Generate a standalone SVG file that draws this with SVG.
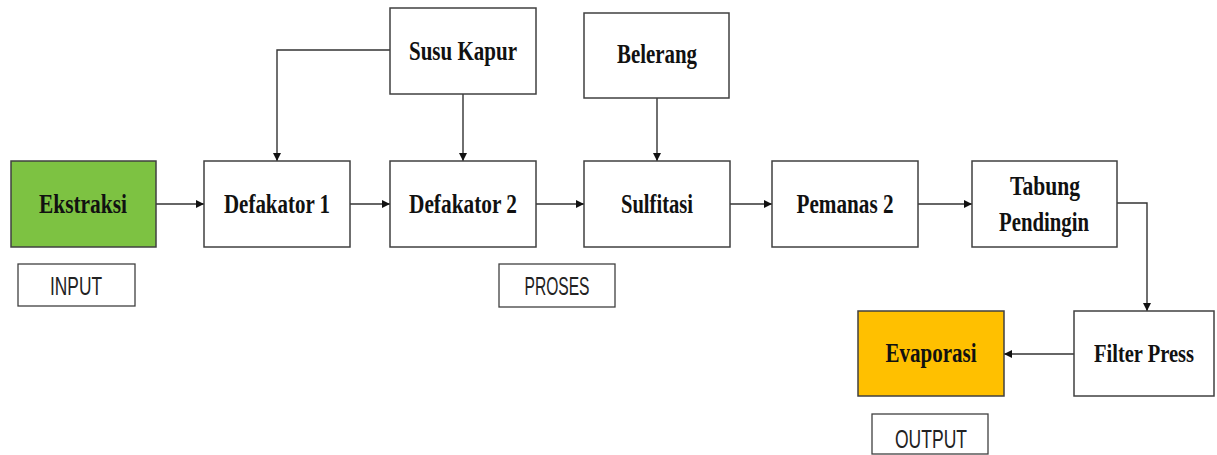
<svg xmlns="http://www.w3.org/2000/svg" width="1217" height="455" viewBox="0 0 1217 455">
<defs>
<style>
.box{fill:#ffffff;stroke:#404040;stroke-width:1.5}
.lbl{fill:#ffffff;stroke:#404040;stroke-width:1.3}
.t{font-family:"Liberation Serif","Times New Roman",serif;font-weight:bold;font-size:27px;fill:#111;text-anchor:middle}
.s{font-family:"Liberation Sans",Arial,sans-serif;font-size:25px;fill:#222;text-anchor:middle}
.c{fill:none;stroke:#333;stroke-width:1.4}
</style>
<marker id="ah" viewBox="0 0 10 10" refX="10" refY="5" markerWidth="8" markerHeight="8" markerUnits="userSpaceOnUse" orient="auto">
<path d="M0,0 L10,5 L0,10 Z" fill="#111"/>
</marker>
</defs>
<rect width="1217" height="455" fill="#ffffff"/>
<g id="connectors">
<path class="c" d="M156,204 H204" marker-end="url(#ah)"/>
<path class="c" d="M350,204 H390" marker-end="url(#ah)"/>
<path class="c" d="M536,204 H584" marker-end="url(#ah)"/>
<path class="c" d="M730,204 H772" marker-end="url(#ah)"/>
<path class="c" d="M918,204 H972" marker-end="url(#ah)"/>
<path class="c" d="M1117,203 H1147 V311" marker-end="url(#ah)"/>
<path class="c" d="M1074,354 H1004" marker-end="url(#ah)"/>
<path class="c" d="M390,50 H277 V161" marker-end="url(#ah)"/>
<path class="c" d="M463,94 V161" marker-end="url(#ah)"/>
<path class="c" d="M657,98 V161" marker-end="url(#ah)"/>
</g>
<g id="ekstraksi">
<rect class="box" x="11" y="161" width="145" height="86" style="fill:#7dc242"/>
<text class="t" x="83" y="213" textLength="88" lengthAdjust="spacingAndGlyphs">Ekstraksi</text>
</g>
<g id="defakator1">
<rect class="box" x="204" y="161" width="146" height="86"/>
<text class="t" x="277" y="213" textLength="106" lengthAdjust="spacingAndGlyphs">Defakator 1</text>
</g>
<g id="susukapur">
<rect class="box" x="390" y="8" width="146" height="86"/>
<text class="t" x="463" y="60" textLength="108" lengthAdjust="spacingAndGlyphs">Susu Kapur</text>
</g>
<g id="defakator2">
<rect class="box" x="390" y="161" width="146" height="86"/>
<text class="t" x="463" y="213" textLength="108" lengthAdjust="spacingAndGlyphs">Defakator 2</text>
</g>
<g id="belerang">
<rect class="box" x="584" y="13" width="145" height="85"/>
<text class="t" x="657" y="63" textLength="80" lengthAdjust="spacingAndGlyphs">Belerang</text>
</g>
<g id="sulfitasi">
<rect class="box" x="584" y="161" width="146" height="86"/>
<text class="t" x="657" y="213" textLength="72" lengthAdjust="spacingAndGlyphs">Sulfitasi</text>
</g>
<g id="pemanas2">
<rect class="box" x="772" y="161" width="146" height="86"/>
<text class="t" x="845" y="213" textLength="97" lengthAdjust="spacingAndGlyphs">Pemanas 2</text>
</g>
<g id="tabungpendingin">
<rect class="box" x="972" y="161" width="145" height="86"/>
<text class="t" x="1045" y="195" textLength="70" lengthAdjust="spacingAndGlyphs">Tabung</text>
<text class="t" x="1044" y="231" textLength="90" lengthAdjust="spacingAndGlyphs">Pendingin</text>
</g>
<g id="filterpress">
<rect class="box" x="1074" y="311" width="140" height="85"/>
<text class="t" x="1144" y="362" style="font-size:25px" textLength="100" lengthAdjust="spacingAndGlyphs">Filter Press</text>
</g>
<g id="evaporasi">
<rect class="box" x="858" y="311" width="146" height="85" style="fill:#ffc000"/>
<text class="t" x="931" y="362" textLength="91" lengthAdjust="spacingAndGlyphs">Evaporasi</text>
</g>
<g id="input">
<rect class="lbl" x="18" y="264" width="117" height="42"/>
<text class="s" x="76" y="295" textLength="52" lengthAdjust="spacingAndGlyphs">INPUT</text>
</g>
<g id="proses">
<rect class="lbl" x="499" y="264" width="116" height="43"/>
<text class="s" x="557" y="295" textLength="65" lengthAdjust="spacingAndGlyphs">PROSES</text>
</g>
<g id="output">
<rect class="lbl" x="872" y="414" width="116" height="40"/>
<text class="s" x="931" y="448" textLength="72" lengthAdjust="spacingAndGlyphs">OUTPUT</text>
</g>
</svg>
